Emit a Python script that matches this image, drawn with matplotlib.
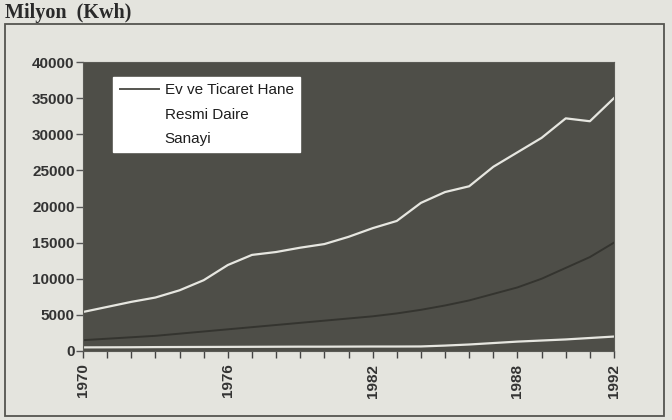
import numpy as np
import matplotlib
matplotlib.use('Agg')
import matplotlib.pyplot as plt
from matplotlib.patches import Rectangle

# yillar ve tuketim (milyon kWh)
years = list(range(1970, 1993))
ev_ticaret = [1500, 1700, 1900, 2100, 2400, 2700, 3000, 3300, 3600, 3900, 4200, 4500,
              4800, 5200, 5700, 6300, 7000, 7900, 8800, 10000, 11500, 13000, 15000]
resmi_daire = [500, 510, 520, 540, 550, 560, 570, 580, 590, 600, 600, 610,
               620, 620, 630, 750, 900, 1100, 1300, 1450, 1600, 1800, 2000]
sanayi = [5400, 6100, 6800, 7400, 8400, 9800, 11900, 13300, 13700, 14300, 14800, 15800,
          17000, 18000, 20500, 22000, 22800, 25500, 27500, 29500, 32200, 31800, 35000]

labels = ['Ev ve Ticaret Hane', 'Resmi Daire', 'Sanayi']
year_ticks = [1970, 1976, 1982, 1988, 1992]

paper = '#e4e4de'
fig = plt.figure(figsize=(6.72, 4.2), dpi=100, facecolor=paper)
ax = fig.add_axes([83/672, 1 - 351/420, 531/672, 289/420])
ax.set_facecolor('#4e4e48')

ax.plot(years, ev_ticaret, color='#34342f', lw=1.4, label=labels[0])
ax.plot(years, resmi_daire, color='#e6e6e0', lw=1.6, label=labels[1])
ax.plot(years, sanayi, color='#e6e6e0', lw=1.6, label=labels[2])

ax.set_xlim(1970, 1992)
ax.set_ylim(0, 40000)
ax.set_yticks(range(0, 40001, 5000))
ax.set_xticks(year_ticks)
ax.set_xticks(years, minor=True)

for lab in ax.get_yticklabels():
    lab.set_fontweight('bold')
ax.tick_params(axis='y', labelsize=11, labelcolor='#333333', color='#555555',
               length=5, width=1, pad=1)
ax.tick_params(axis='x', which='both', labelsize=11, labelcolor='#333333',
               color='#444444', length=5, width=1, labelrotation=90, pad=4)
ax.set_xticklabels([str(y) for y in year_ticks], fontweight='bold')
for lab in ax.get_yticklabels() + ax.get_xticklabels():
    lab.set_family('Liberation Sans')
for s in ax.spines.values():
    s.set_color('#5a5a55')

leg = ax.legend(loc='upper left', bbox_to_anchor=(0.043, 0.975), frameon=True,
                fancybox=False, framealpha=1, edgecolor='white', facecolor='white',
                prop={'family': 'Liberation Sans', 'size': 11}, handlelength=2.6,
                handletextpad=0.35, labelspacing=0.7, borderpad=0.4)
leg.get_lines()[0].set_color('#555550')
for h in leg.get_lines()[1:]:
    h.set_color('white')
for t in leg.get_texts():
    t.set_color('#1e1e1e')

fig.text(5/672, 1 - 13/420, 'Milyon  (Kwh)', family='Liberation Serif',
         fontweight='bold', fontsize=14.5, color='#2a2a2a', va='center', ha='left')

fig.patches.append(Rectangle((5/672, 1 - 416/420), 659/672, 392/420,
                             transform=fig.transFigure, fill=False,
                             edgecolor='#555550', lw=1.3))

fig.savefig('out.png', dpi=100, facecolor=paper)
